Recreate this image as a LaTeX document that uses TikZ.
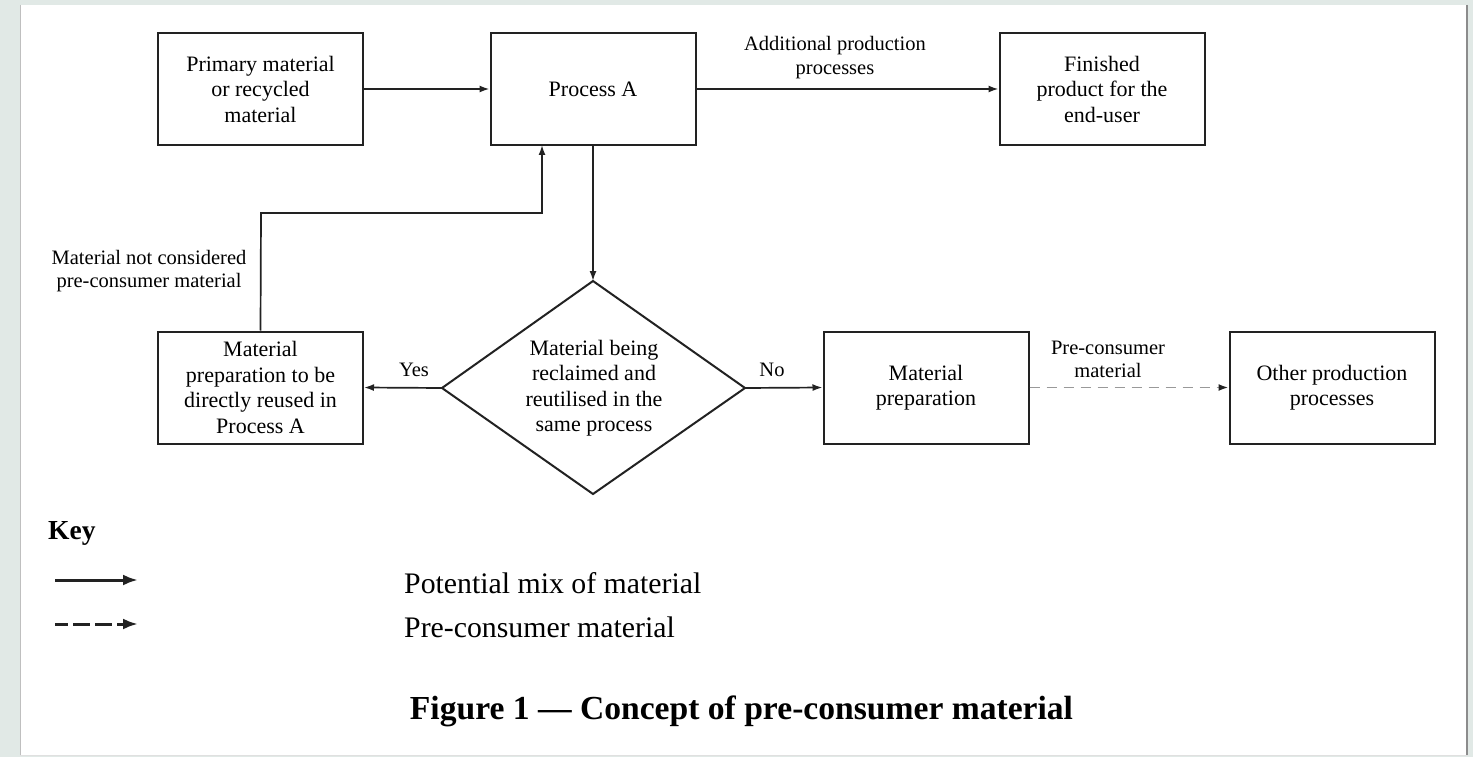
\documentclass[tikz,border=0pt]{standalone}
\usepackage{fontspec}
\setmainfont{Liberation Serif}
\usetikzlibrary{arrows.meta,calc}
\definecolor{pagebg}{HTML}{E1E9E6}
\definecolor{linec}{HTML}{222222}
\definecolor{dashc}{HTML}{999999}
\begin{document}
\begin{tikzpicture}[x=1pt,y=-1pt,
  box/.style={draw=linec,line width=2pt,minimum width=205pt,minimum height=112pt,
    align=center,inner sep=0pt,font=\fontsize{22}{25.5}\selectfont},
  lbl/.style={align=center,inner sep=0pt,font=\fontsize{20.5}{23.5}\selectfont},
  arr/.style={draw=linec,line width=1.7pt,-{Latex[length=10pt,width=7pt]}},
  dasharr/.style={draw=dashc,line width=1.9pt,dash pattern=on 10pt off 7pt,
    -{Latex[length=10pt,width=7pt,fill=linec,color=linec]}},
  keyarr/.style={draw=linec,line width=3pt,-{Latex[length=15pt,width=11pt]}},
  keydash/.style={draw=linec,line width=3pt,dash pattern=on 17pt off 5pt,dash phase=4pt,-{Latex[length=15pt,width=11pt]}},
  keytxt/.style={anchor=west,inner sep=0pt,font=\fontsize{29.8}{32}\selectfont}]
% page
\fill[pagebg] (0,0) rectangle (1473,757);
\fill[white] (20,5) rectangle (1468,755);
\draw[black!25,line width=1.5pt] (20.5,5) -- (20.5,755);
\draw[black!45,line width=2pt] (1467,5) -- (1467,755);
\draw[black!12,line width=1pt] (20,755) -- (1468,755);
% boxes
\node[box] (pm) at (260.5,89) {Primary material\\or recycled\\material};
\node[box] (pa) at (593,89) {Process A};
\node[box] (fin) at (1102,89) {Finished\\product for the\\end-user};
\node[box] (mr) at (260.5,387.5) {Material\\preparation to be\\directly reused in\\Process A};
\node[box] (mp) at (926,387.5) {Material\\preparation};
\node[box] (op) at (1332,387.5) {Other production\\processes};
% decision diamond
\coordinate (dt) at (593,281);
\coordinate (dr) at (745,388);
\coordinate (db) at (593,494);
\coordinate (dl) at (442,388);
\draw[linec,line width=2pt,line join=miter] (dt) -- (dr) -- (db) -- (dl) -- cycle;
\node[box,draw=none,minimum width=0pt,minimum height=0pt] (dia) at (594,388)
  {Material being\\reclaimed and\\reutilised in the\\same process};
% connectors
\draw[arr] (pm.east) -- (pa.west);
\draw[arr] (pa.east) -- (fin.west);
\node[lbl] (addl) at (835,57.5) {Additional production\\processes};
\draw[arr] (pa.south) -- (dt);
\draw[arr] (dl) -- (mr.east);
\node[lbl] (yes) at (414,370) {Yes};
\draw[arr] (dr) -- (mp.west);
\node[lbl] (no) at (772,370) {No};
\coordinate (turn) at (261,213);
\coordinate (pain) at (542,145);
\draw[arr] (mr.north) -- (turn) -| (pain);
\node[lbl] (notcons) at (149,271) {Material not considered\\pre-consumer material};
\draw[dasharr] (mp.east) -- (op.west);
\node[lbl] (precons) at (1108,359.5) {Pre-consumer\\material};
% key
\node[anchor=west,inner sep=0pt,font=\bfseries\fontsize{27.5}{30}\selectfont] (key) at (48,533) {Key};
\coordinate (k1a) at (55,580);
\coordinate (k1b) at (138,580);
\coordinate (k2a) at (55,624);
\coordinate (k2b) at (138,624);
\draw[keyarr] (k1a) -- (k1b);
\draw[keydash] (k2a) -- (k2b);
\node[keytxt] (kt1) at (404,583) {Potential mix of material};
\node[keytxt] (kt2) at (404,627) {Pre-consumer material};
% caption
\node[inner sep=0pt,font=\bfseries\fontsize{33.6}{36}\selectfont] (cap) at (741.5,711)
  {Figure 1 — Concept of pre-consumer material};
\end{tikzpicture}
\end{document}
